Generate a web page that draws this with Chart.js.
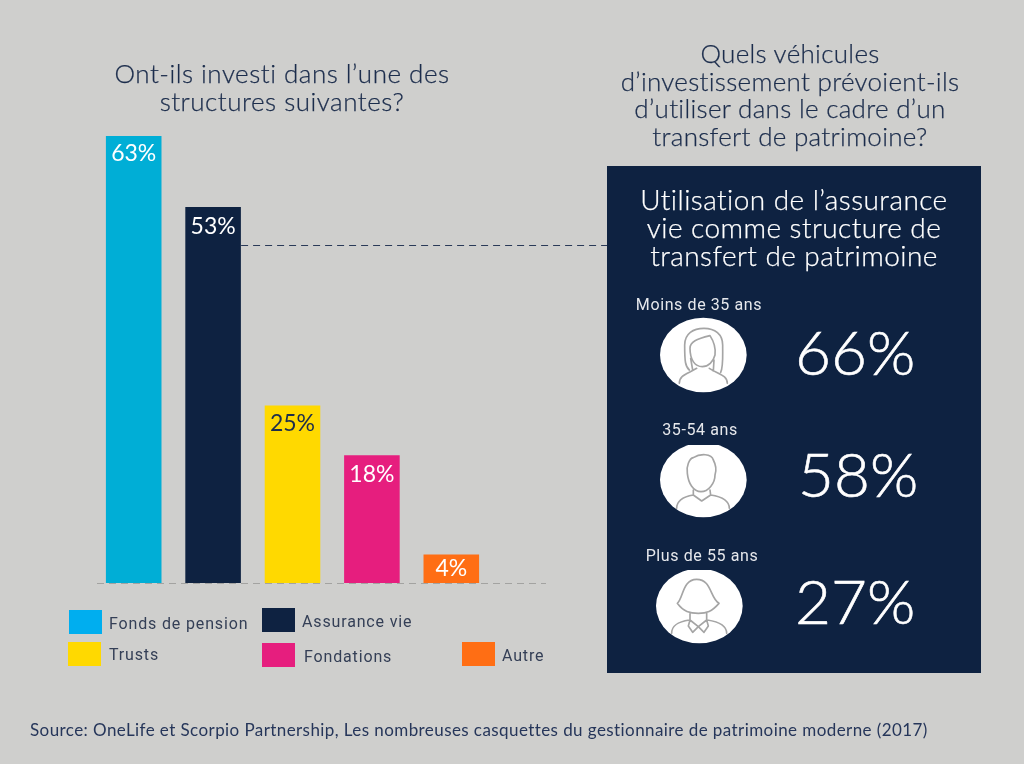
<!DOCTYPE html>
<html lang="fr">
<head>
<meta charset="utf-8">
<title>Structures d'investissement</title>
<script src="https://cdn.jsdelivr.net/npm/chart.js@4/dist/chart.umd.min.js"></script>
<style>
    html, body { margin: 0; padding: 0; }
    body { width: 1024px; height: 764px; overflow: hidden; background: #cfcfcd; position: relative; font-family: Lato, sans-serif; color: #1c2d4c; font-variant-ligatures: none; }
    canvas { position: absolute; left: 0; top: 0; }
    .txt { position: absolute; white-space: nowrap; }
    .title { font-size: 26px; line-height: 27.5px; text-align: center; transform: translateX(-50%); font-weight: 300; -webkit-text-stroke: 0.25px #1c2d4c; }
    #panel { position: absolute; left: 607px; top: 166px; width: 374px; height: 507px; background: #0e2241; }
    .swatch { position: absolute; width: 33px; height: 24px; }
    .legend-label { font-family: Roboto, sans-serif; font-size: 16px; letter-spacing: 0.85px; color: #343f56; line-height: 20px; }
    .age { font-family: Roboto, sans-serif; font-size: 16px; letter-spacing: 0.6px; color: #e6e8ec; line-height: 18px; transform: translateX(-50%); }
    .pct { font-size: 62px; line-height: 70px; color: #fff; font-weight: 300; -webkit-text-stroke: 0.6px #fff; }
    svg { position: absolute; }
    svg path { fill: none; stroke: #a5a5a5; stroke-width: 5; stroke-linejoin: round; stroke-linecap: round; }
</style>
</head>
<body>
<canvas id="barChart" width="1024" height="764"></canvas>
<div id="overlay"></div>
<script>
document.addEventListener('DOMContentLoaded', function() {
    // chart data
    const categories = ['Fonds de pension', 'Assurance vie', 'Trusts', 'Fondations', 'Autre'];
    const values = [63, 53, 25, 18, 4];
    const barColors = ['#00aed6', '#0e2241', '#ffd900', '#e61e7e', '#ff6e14'];
    const swatchColors = ['#00aeef', '#0e2241', '#ffd900', '#e61e7e', '#ff6e14'];
    const labelColors = ['#ffffff', '#ffffff', '#1c2d4c', '#ffffff', '#ffffff'];
    const labelOffsets = [18, 20, 18, 19, 14];

    const ageGroups = ['Moins de 35 ans', '35-54 ans', 'Plus de 55 ans'];
    const ageValues = [66, 58, 27];

    const leftTitle = ['Ont-ils investi dans l’une des', 'structures suivantes?'];
    const rightTitle = ['Quels véhicules', 'd’investissement prévoient-ils', 'd’utiliser dans le cadre d’un', 'transfert de patrimoine?'];
    const panelTitle = ['Utilisation de l’assurance', 'vie comme structure de', 'transfert de patrimoine'];
    const source = 'Source: OneLife et Scorpio Partnership, Les nombreuses casquettes du gestionnaire de patrimoine moderne (2017)';

    // Dashed lines and the labels inside the bars
    const annotations = {
        id: 'annotations',
        beforeDatasetsDraw(chart) {
            const c = chart.ctx;
            const y0 = chart.scales.y.getPixelForValue(0);
            c.save();
            c.setLineDash([7, 5]);
            c.lineWidth = 1;
            c.strokeStyle = '#a3a3a1';
            c.beginPath();
            c.moveTo(97, y0 + 0.5);
            c.lineTo(546, y0 + 0.5);
            c.stroke();
            c.strokeStyle = '#2a3a58';
            c.beginPath();
            c.moveTo(chart.getDatasetMeta(0).data[1].x + 28, 245.5);
            c.lineTo(607, 245.5);
            c.stroke();
            c.restore();
        },
        afterDatasetsDraw(chart) {
            const c = chart.ctx;
            c.save();
            c.font = '400 23px Lato, sans-serif';
            c.textAlign = 'center';
            c.textBaseline = 'middle';
            chart.getDatasetMeta(0).data.forEach((bar, i) => {
                c.fillStyle = labelColors[i];
                c.fillText(values[i] + '%', bar.x, bar.y + labelOffsets[i]);
            });
            c.restore();
        }
    };

    new Chart(document.getElementById('barChart').getContext('2d'), {
        type: 'bar',
        data: {
            labels: categories,
            datasets: [{
                data: values,
                backgroundColor: barColors,
                barPercentage: 0.7,
                categoryPercentage: 1
            }]
        },
        options: {
            responsive: false,
            animation: false,
            devicePixelRatio: 1,
            layout: { padding: { left: 94, right: 533, top: 136, bottom: 181 } },
            scales: {
                x: { display: false },
                y: { display: false, min: 0, max: 63 }
            },
            plugins: { legend: { display: false }, tooltip: { enabled: false } }
        },
        plugins: [annotations]
    });

    const overlay = document.getElementById('overlay');

    function addText(text, cls, left, top) {
        const el = document.createElement('div');
        el.className = 'txt ' + cls;
        el.style.left = left + 'px';
        el.style.top = top + 'px';
        el.innerHTML = text;
        overlay.appendChild(el);
        return el;
    }

    addText(leftTitle.join('<br>'), 'title', 282, 60).style.cssText += 'letter-spacing:0.5px;';
    addText(rightTitle.join('<br>'), 'title', 790, 40).style.cssText += 'letter-spacing:0.3px;';

    const panel = document.createElement('div');
    panel.id = 'panel';
    overlay.appendChild(panel);
    addText(panelTitle.join('<br>'), 'title', 794, 185).style.cssText += 'color:#fff;-webkit-text-stroke:0.25px #fff;line-height:28px;font-size:28px;letter-spacing:0.45px;';

    // legend, placed by hand like the original
    const legendPos = [[69, 610, 109, 614], [262, 608, 302, 612], [68, 642, 109, 645], [262, 643, 304, 647], [462, 642, 502, 646]];
    categories.forEach((name, i) => {
        const s = document.createElement('div');
        s.className = 'swatch';
        s.style.left = legendPos[i][0] + 'px';
        s.style.top = legendPos[i][1] + 'px';
        s.style.background = swatchColors[i];
        overlay.appendChild(s);
        addText(name, 'legend-label', legendPos[i][2], legendPos[i][3]);
    });

    // age groups, icons are line drawings on white ellipses
    const ageLabelPos = [[699, 296], [700, 421], [702, 547]];
    const pctPos = [[795, 316], [798, 438], [795, 565]];
    const iconPos = [[650, 315], [650, 445], [645, 570]];
    const ellipses = [[160, 120], [160, 105], [163, 108]];
    const iconPaths = [
        'M118,165 C106,155 104,140 104,90 C104,55 130,40 162,40 C195,40 218,58 218,90 C218,130 220,155 212,172 M120,100 C120,80 140,72 180,62 C195,85 197,105 195,120 C190,140 175,155 157,155 C135,155 120,135 120,100 Z M122,130 L128,165 M192,135 L190,168 M88,205 C88,180 110,178 140,160 M232,205 C232,180 205,178 178,160',
        'M112,85 C108,65 118,40 130,38 C150,25 185,25 190,45 C198,60 200,75 195,90 C195,115 175,140 153,140 C130,140 115,115 112,85 Z M130,135 L130,150 L155,168 L182,150 L180,135 M80,190 C80,165 100,155 130,150 M182,150 C215,155 238,165 238,190',
        'M97,100 C115,85 112,28 155,28 C200,28 195,85 222,100 C200,125 185,130 160,130 C135,130 115,125 97,100 Z M135,130 L135,150 M185,130 L185,150 M80,190 C80,165 100,155 133,150 M187,150 C220,155 245,165 245,190 M135,150 L130,168 L143,187 L160,170 L177,187 L190,168 L185,150 M135,150 L160,170 L185,150'
    ];
    ageGroups.forEach((name, i) => {
        addText(name, 'age', ageLabelPos[i][0], ageLabelPos[i][1]);
        addText(ageValues[i] + '%', 'pct', pctPos[i][0], pctPos[i][1]);
        const svg = document.createElementNS('http://www.w3.org/2000/svg', 'svg');
        svg.setAttribute('viewBox', '0 0 330 240');
        svg.setAttribute('width', 110);
        svg.setAttribute('height', 80);
        svg.style.left = iconPos[i][0] + 'px';
        svg.style.top = iconPos[i][1] + 'px';
        svg.innerHTML = `<ellipse cx="${ellipses[i][0]}" cy="${ellipses[i][1]}" rx="130" ry="112" fill="#fff"/><path d="${iconPaths[i]}"/>`;
        overlay.appendChild(svg);
    });

    addText(source, 'source', 30, 720).style.cssText += 'font-size:17px;line-height:20px;letter-spacing:0.42px;color:#26365a;';
});
</script>
</body>
</html>
